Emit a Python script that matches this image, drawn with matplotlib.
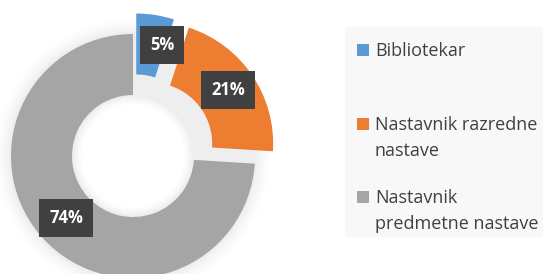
import matplotlib.pyplot as plt
from matplotlib.patches import Rectangle

categories = ["Bibliotekar", "Nastavnik razredne\nnastave", "Nastavnik\npredmetne nastave"]
shares = [5, 21, 74]
colors = ["#5b9bd5", "#ed7d31", "#a5a5a5"]
explode = [0.17, 0.18, 0]

W, H = 543, 274
cx, cy, R = 133, 156, 122  # donut centre / radius in pixels

fig = plt.figure(figsize=(W / 100, H / 100), dpi=100)
fig.patch.set_facecolor("white")
ax = fig.add_axes([0, 0, 1, 1])

# soft glow behind the ring
for k, a in enumerate([0.015, 0.02, 0.025, 0.03, 0.035]):
    ax.pie([1], radius=1 + 0.12 - k * 0.025, colors=["#808080"],
           wedgeprops=dict(width=0.5 + 0.2 - k * 0.04, alpha=a, linewidth=0))

wedges, _ = ax.pie(shares, colors=colors, startangle=90, counterclock=False,
                   explode=explode, radius=1,
                   wedgeprops=dict(width=0.5, linewidth=0))

ax.set_aspect("auto")
ax.set_xlim(-cx / R, (W - cx) / R)
ax.set_ylim(-(H - cy) / R, cy / R)
ax.axis("off")

# data labels (pixel positions of the box centres)
label_pos = [(162, 45), (228, 90), (66, 218)]
for v, (px, py) in zip(shares, label_pos):
    ax.text((px - cx) / R, (cy - py) / R, f"{v}%", ha="center", va="center",
            color="white", fontsize=12, fontweight="bold", family="Open Sans",
            bbox=dict(boxstyle="square,pad=0.6", fc="#404040", ec="none"))

# legend panel
fig.patches.append(Rectangle((345 / W, 1 - 237 / H), (W - 345) / W, 210 / H,
                             transform=fig.transFigure, fc="#f8f8f8", ec="none",
                             zorder=0))
legend_base = [56, 130, 203]  # baseline of first line, pixels from top
for lab, c, y in zip(categories, colors, legend_base):
    fig.patches.append(Rectangle((357 / W, 1 - y / H), 12 / W, 12 / H,
                                 transform=fig.transFigure, fc=c, ec="none"))
    for i, line in enumerate(lab.split("\n")):
        fig.text(375 / W, 1 - (y + 26 * i) / H, line, ha="left", va="baseline",
                 fontsize=13, family="Open Sans", color="#404040")

fig.savefig("out.png", dpi=100)
